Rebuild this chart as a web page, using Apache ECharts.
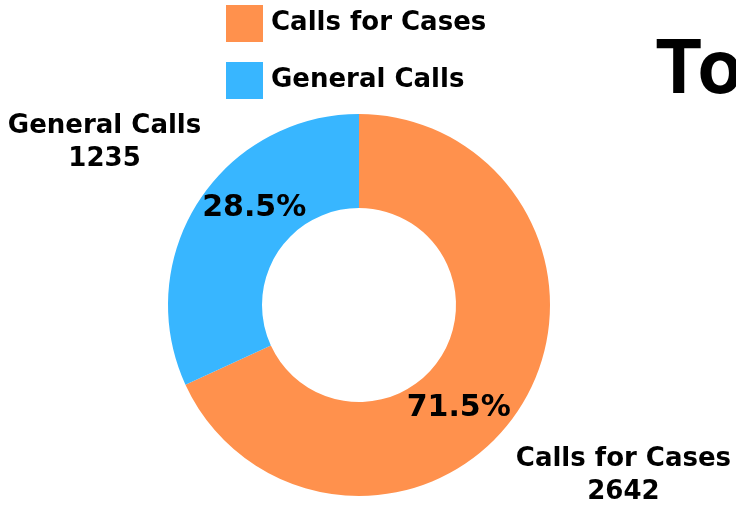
<!DOCTYPE html>
<html><head><meta charset="utf-8">
<script src="https://cdn.jsdelivr.net/npm/echarts@6/dist/echarts.min.js"></script>
<style>html,body{margin:0;padding:0;background:#fff}#c{width:736px;height:506px}</style>
</head><body><div id="c"></div>
<script>
const categories = ['Calls for Cases', 'General Calls'];
const values = [2642, 1235];
const percentLabels = ['71.5%', '28.5%'];
const colors = ['#FF914D', '#38B6FF'];
const titleText = 'Total Calls';

const chart = echarts.init(document.getElementById('c'));
const pctOffsets = [[-24, 24], [19, -17]];
const outerShift = [[1, 5], [9, 3]];
const data = categories.map((n, i) => ({
  name: n, value: values[i], itemStyle: { color: colors[i] },
  label: { offset: pctOffsets[i] }
}));
const outerData = categories.map((n, i) => ({ name: n, value: values[i], itemStyle: { color: 'transparent' } }));
const font = '"DejaVu Sans", sans-serif';
chart.setOption({
  animation: false,
  title: { text: titleText, left: 649, top: 29, textStyle: { fontSize: 74, fontWeight: 'bold', color: '#000', fontFamily: 'Inter, sans-serif' } },
  legend: {
    orient: 'vertical', left: 221, top: 0, itemWidth: 37, itemHeight: 37, itemGap: 20, icon: 'rect',
    textStyle: { fontSize: 26, color: '#000', fontFamily: font, fontWeight: 'bold', padding: [0, 0, 0, 3] }
  },
  series: [
    {
      type: 'pie', center: [359, 305], radius: [97, 191], startAngle: 90,
      data: data,
      label: { show: true, position: 'inside', formatter: p => percentLabels[p.dataIndex], fontSize: 30, fontWeight: 'bold', color: '#000', fontFamily: font },
      labelLine: { show: false }
    },
    {
      type: 'pie', center: [359, 305], radius: [97, 191], startAngle: 90,
      data: outerData, silent: true, legendHoverLink: false,
      label: {
        show: true, position: 'outside', overflow: 'none',
        formatter: '{a|{b}}\n{a|{c}}',
        rich: { a: { align: 'center', fontSize: 26, lineHeight: 33, fontWeight: 'bold', color: '#000', fontFamily: font } }
      },
      labelLine: { show: false, length: 116, length2: 0 },
      labelLayout: p => ({ align: 'center', verticalAlign: 'middle', dx: outerShift[p.dataIndex][0], dy: outerShift[p.dataIndex][1] })
    }
  ]
});
</script></body></html>
